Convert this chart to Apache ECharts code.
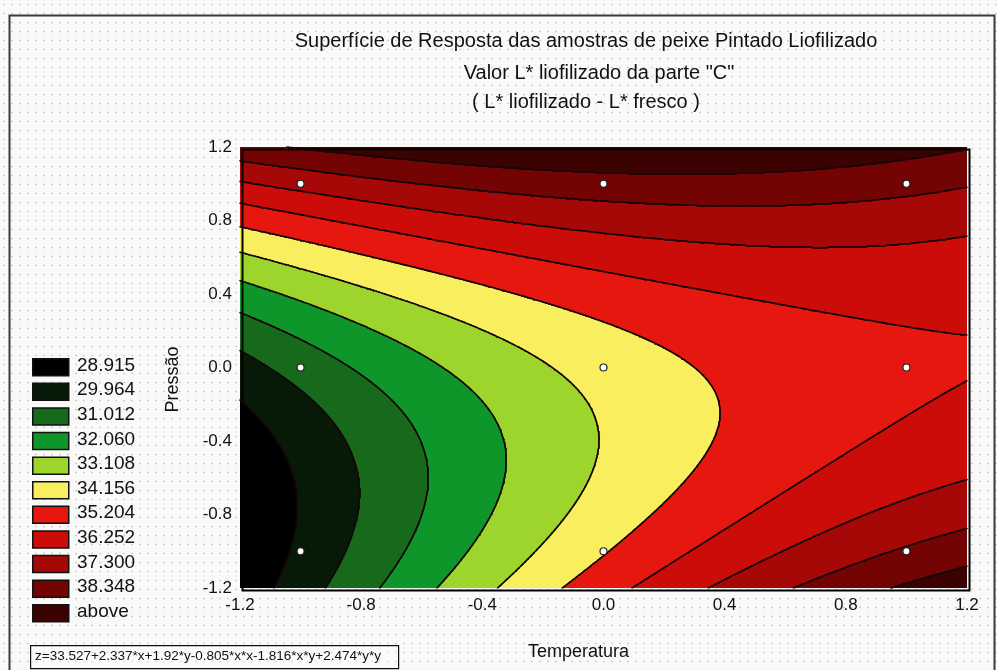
<!DOCTYPE html>
<html>
<head>
<meta charset="utf-8">
<script src="https://cdn.jsdelivr.net/npm/echarts@6/dist/echarts.min.js"></script>
<style>
  html, body { margin: 0; padding: 0; }
  body {
    background-color: #f9f9f8;
    background-image: radial-gradient(circle, rgba(150,150,150,0.45) 0.7px, transparent 1.2px);
    background-size: 8px 9px;
  }
  #chart { width: 997px; height: 670px; }
</style>
</head>
<body>
<div id="chart"></div>
<script>
// Fitted quadratic response surface:
// z = b0 + b1*x + b2*y + b11*x*x + b12*x*y + b22*y*y
const coefficients = [33.527, 2.337, 1.92, -0.805, -1.816, 2.474];
const equationText = 'z=33.527+2.337*x+1.92*y-0.805*x*x-1.816*x*y+2.474*y*y';

// Contour levels (upper bound of each colour band) and their colours
const levels = [28.915, 29.964, 31.012, 32.060, 33.108, 34.156, 35.204, 36.252, 37.300, 38.348];
const levelLabels = ['28.915', '29.964', '31.012', '32.060', '33.108', '34.156',
                     '35.204', '36.252', '37.300', '38.348', 'above'];
const levelColors = ['#000000', '#061a07', '#176a1c', '#0f962a', '#9dd52d', '#f8ee5e',
                     '#e6170f', '#cb0c08', '#a60707', '#740404', '#3c0202'];

// Axis range and tick labels
const axisMin = -1.2, axisMax = 1.2, axisStep = 0.4;
const axisTicks = ['-1.2', '-0.8', '-0.4', '0.0', '0.4', '0.8', '1.2'];

// Experimental design points (Temperatura, Pressão)
const designX = [-1, -1, -1, 0, 0, 0, 1, 1, 1];
const designY = [-1, 0, 1, -1, 0, 1, -1, 0, 1];

const titleLines = [
  'Superfície de Resposta das amostras de peixe Pintado Liofilizado',
  'Valor L* liofilizado da parte "C"',
  '( L* liofilizado - L* fresco )'
];
const xName = 'Temperatura';
const yName = 'Pressão';

const FONT = "'Liberation Sans', Arial, sans-serif";

function surface(x, y) {
  const b = coefficients;
  return b[0] + b[1] * x + b[2] * y + b[3] * x * x + b[4] * x * y + b[5] * y * y;
}
function bandOf(z) {
  let i = 0;
  while (i < levels.length && z > levels[i]) i++;
  return i;
}

// Filled bands: each row of the surface is split into runs of equal band
const fillRuns = [];
const dy = 0.005, dx = 0.002;
const nRows = Math.round((axisMax - axisMin) / dy);
const nCols = Math.round((axisMax - axisMin) / dx);
for (let r = 0; r < nRows; r++) {
  const y0 = axisMin + r * dy, y1 = y0 + dy, yc = (y0 + y1) / 2;
  let startX = axisMin;
  let cur = bandOf(surface(axisMin + dx / 2, yc));
  for (let c = 1; c <= nCols; c++) {
    const xe = axisMin + c * dx;
    const b = c < nCols ? bandOf(surface(xe + dx / 2, yc)) : -1;
    if (b !== cur) {
      fillRuns.push([startX, xe, y0, y1, cur]);
      startX = xe;
      cur = b;
    }
  }
}

// Contour lines by marching squares on a regular grid
const gStep = 0.01;
const gN = Math.round((axisMax - axisMin) / gStep) + 1;
const gx = [], grid = [];
for (let i = 0; i < gN; i++) gx.push(axisMin + i * gStep);
for (let j = 0; j < gN; j++) {
  const row = [];
  for (let i = 0; i < gN; i++) row.push(surface(gx[i], gx[j]));
  grid.push(row);
}
const contourSegs = [];
function lerpPt(xa, ya, va, xb, yb, vb, L) {
  const t = (L - va) / (vb - va);
  return [xa + t * (xb - xa), ya + t * (yb - ya)];
}
levels.forEach(function (L) {
  for (let j = 0; j < gN - 1; j++) {
    for (let i = 0; i < gN - 1; i++) {
      const x0 = gx[i], x1 = gx[i + 1], y0 = gx[j], y1 = gx[j + 1];
      const v0 = grid[j][i], v1 = grid[j][i + 1], v2 = grid[j + 1][i + 1], v3 = grid[j + 1][i];
      const cs = [[x0, y0, v0], [x1, y0, v1], [x1, y1, v2], [x0, y1, v3]];
      const pts = [];
      for (let e = 0; e < 4; e++) {
        const a = cs[e], b = cs[(e + 1) % 4];
        if ((a[2] > L) !== (b[2] > L)) pts.push(lerpPt(a[0], a[1], a[2], b[0], b[1], b[2], L));
      }
      if (pts.length === 2) {
        contourSegs.push({ coords: [pts[0], pts[1]] });
      } else if (pts.length === 4) {
        const vc = (v0 + v1 + v2 + v3) / 4;
        if ((vc > L) === (v0 > L)) {
          contourSegs.push({ coords: [pts[0], pts[1]] });
          contourSegs.push({ coords: [pts[2], pts[3]] });
        } else {
          contourSegs.push({ coords: [pts[3], pts[0]] });
          contourSegs.push({ coords: [pts[1], pts[2]] });
        }
      }
    }
  }
});

function tickLabel(v) {
  return axisTicks[Math.round((v - axisMin) / axisStep)];
}

// Plot area in pixels
const plot = { left: 240, top: 147, right: 30, bottom: 82 };
const plotW = 997 - plot.left - plot.right, plotH = 670 - plot.top - plot.bottom;

// Legend (colour boxes with level labels) and frame elements
const graphics = [];
graphics.push({
  type: 'rect', left: 7, top: 13, z: 0, silent: true,
  shape: { width: 985, height: 680 },
  style: { fill: 'none', stroke: '#3a3a3a', lineWidth: 2 }
});
levelLabels.forEach(function (lab, i) {
  const yTop = 358 + i * 24.6;
  graphics.push({
    type: 'rect', left: 32, top: yTop, z: 10,
    shape: { width: 36, height: 17 },
    style: { fill: levelColors[i], stroke: '#111', lineWidth: 1.5 }
  });
  graphics.push({
    type: 'text', left: 77, top: yTop - 2, z: 10,
    style: { text: lab, fill: '#111', font: '19px ' + FONT }
  });
});
graphics.push({
  type: 'rect', left: 30, top: 645, z: 10,
  shape: { width: 368, height: 23 },
  style: { fill: 'rgba(255,255,255,0.35)', stroke: '#111', lineWidth: 1.2 }
});
graphics.push({
  type: 'text', left: 35, top: 649, z: 11,
  style: { text: equationText, fill: '#111', font: '13.5px ' + FONT }
});
graphics.push({
  type: 'rect', left: plot.left, top: plot.top, z: 20, silent: true,
  shape: { width: plotW, height: plotH },
  style: { fill: 'none', stroke: '#000', lineWidth: 2 }
});

const titleStyle = { fontSize: 20, fontWeight: 'normal', color: '#111', fontFamily: FONT };

const chart = echarts.init(document.getElementById('chart'), null, { renderer: 'canvas' });
chart.setOption({
  animation: false,
  backgroundColor: 'transparent',
  title: [
    { text: titleLines[0], left: 586, top: 31, textAlign: 'center', padding: 0, textStyle: titleStyle },
    { text: titleLines[1], left: 599, top: 63, textAlign: 'center', padding: 0, textStyle: titleStyle },
    { text: titleLines[2], left: 586, top: 92, textAlign: 'center', padding: 0, textStyle: titleStyle }
  ],
  grid: { left: plot.left, right: plot.right, top: plot.top, bottom: plot.bottom, containLabel: false },
  xAxis: {
    type: 'value', min: axisMin, max: axisMax, interval: axisStep,
    name: xName, nameLocation: 'middle', nameGap: 55,
    nameTextStyle: { fontSize: 18, color: '#111', fontFamily: FONT, padding: [0, 50, 0, 0] },
    axisLine: { show: false }, axisTick: { show: false }, splitLine: { show: false },
    axisLabel: { formatter: tickLabel, fontSize: 17, color: '#111', fontFamily: FONT, margin: 9,
                 showMinLabel: true, showMaxLabel: true }
  },
  yAxis: {
    type: 'value', min: axisMin, max: axisMax, interval: axisStep,
    name: yName, nameLocation: 'middle', nameGap: 58, nameRotate: 90,
    nameTextStyle: { fontSize: 18, color: '#111', fontFamily: FONT, padding: [0, 24, 0, 0] },
    axisLine: { show: false }, axisTick: { show: false }, splitLine: { show: false },
    axisLabel: { formatter: tickLabel, fontSize: 17, color: '#111', fontFamily: FONT, margin: 8,
                 showMinLabel: true, showMaxLabel: true }
  },
  graphic: graphics,
  series: [
    {
      type: 'custom',
      name: 'bands',
      silent: true,
      z: 1,
      data: fillRuns,
      encode: { x: [0, 1], y: [2, 3] },
      renderItem: function (params, api) {
        const p0 = api.coord([api.value(0), api.value(3)]);
        const p1 = api.coord([api.value(1), api.value(2)]);
        const col = levelColors[api.value(4)];
        // snap rows to whole pixels so neighbouring rows overlap without seams
        const yTop = Math.floor(p0[1]);
        const yBot = Math.ceil(p1[1]);
        return {
          type: 'rect',
          shape: { x: p0[0], y: yTop, width: p1[0] - p0[0], height: Math.max(1, yBot - yTop) },
          style: { fill: col }
        };
      }
    },
    {
      type: 'lines',
      name: 'contours',
      coordinateSystem: 'cartesian2d',
      silent: true,
      z: 3,
      progressive: 0,
      polyline: false,
      data: contourSegs,
      lineStyle: { color: '#140606', width: 1.6, opacity: 1, cap: 'round' }
    },
    {
      type: 'scatter',
      name: 'design',
      z: 5,
      symbol: 'circle',
      symbolSize: 7,
      data: designX.map(function (x, i) { return [x, designY[i]]; }),
      itemStyle: { color: '#ffffff', borderColor: '#222', borderWidth: 1.2, opacity: 1 }
    }
  ]
});
</script>
</body>
</html>
